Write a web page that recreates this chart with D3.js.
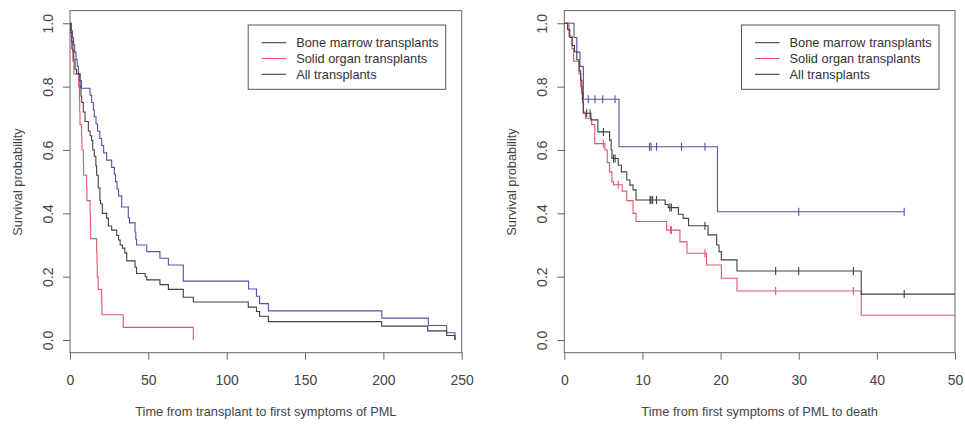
<!DOCTYPE html>
<html>
<head>
<meta charset="utf-8">
<script src="https://cdn.jsdelivr.net/npm/d3@7"></script>
<style>
  body { margin: 0; background: #fff; }
  svg { display: block; font-family: "Liberation Sans", Arial, sans-serif; }
  .domain, .tick line { stroke: #666; }
  .tick text { fill: #444; font-size: 14px; }
  .title { fill: #444; font-size: 12.8px; }
  .legend text { fill: #333; font-size: 12.8px; }
</style>
</head>
<body>
<script>
// left panel: time from transplant to first symptoms of PML
var leftBmtT = [0, 0.8, 1.5, 2.3, 3, 3.8, 4.6, 5.4, 6.3, 7.3, 12.8, 13.8, 14.9, 15.5, 16.6, 17.6, 19, 20.2, 21.5, 23.4, 26.6, 28.3, 29, 30, 31, 33, 37.2, 38, 41.5, 42, 42.5, 49, 57.4, 62.8, 72.3, 114, 119, 121, 126.6, 199, 228.7, 240.4, 245.7];
var leftBmtS = [1, 0.977, 0.955, 0.932, 0.909, 0.886, 0.864, 0.841, 0.818, 0.795, 0.773, 0.75, 0.727, 0.705, 0.682, 0.659, 0.636, 0.614, 0.591, 0.568, 0.545, 0.523, 0.5, 0.477, 0.455, 0.42, 0.386, 0.37, 0.341, 0.318, 0.3, 0.279, 0.258, 0.237, 0.186, 0.161, 0.138, 0.115, 0.092, 0.069, 0.046, 0.023, 0];

var leftSotT = [0, 0.5, 1, 1.8, 2.5, 5.5, 6, 6.2, 6.4, 7.4, 7.6, 8.5, 8.7, 10.6, 10.8, 12.8, 13, 13.2, 17, 17.2, 17.4, 18, 20.2, 20.4, 34, 78.7];
var leftSotS = [1, 0.96, 0.92, 0.88, 0.84, 0.8, 0.76, 0.72, 0.68, 0.64, 0.6, 0.56, 0.52, 0.48, 0.44, 0.4, 0.36, 0.32, 0.28, 0.24, 0.2, 0.16, 0.12, 0.08, 0.04, 0];

var leftAllT = [0, 0.6, 1.2, 1.8, 2.4, 3.2, 4.2, 6.4, 7, 7.5, 8.5, 9.6, 11.7, 12.8, 13.8, 14.5, 15.5, 16.5, 17, 18, 19.1, 19.5, 20.6, 23.4, 24.5, 26.6, 29.8, 31, 32, 33.5, 35, 36.2, 41.5, 42.5, 48, 49, 57.4, 62.8, 72.3, 78.7, 113.8, 119, 121, 126.6, 198.9, 228.3, 240.4, 245.7];
var leftAllS = [1, 0.971, 0.942, 0.913, 0.884, 0.855, 0.84, 0.8, 0.77, 0.75, 0.72, 0.69, 0.66, 0.645, 0.63, 0.6, 0.58, 0.55, 0.52, 0.48, 0.44, 0.43, 0.4, 0.385, 0.36, 0.347, 0.33, 0.316, 0.3, 0.29, 0.275, 0.25, 0.23, 0.21, 0.2, 0.19, 0.175, 0.16, 0.135, 0.12, 0.104, 0.09, 0.075, 0.058, 0.044, 0.029, 0.0145, 0];

// right panel: time from first symptoms of PML to death
var rightBmtT = [0, 1.24, 1.6, 2, 2.44, 7, 19.6, 43.5];
var rightBmtS = [1, 0.955, 0.909, 0.864, 0.76, 0.61, 0.405, 0.405];
var rightBmtCens = [3.07, 3.93, 4.91, 6.49, 10.9, 11.1, 11.8, 15, 18, 30, 43.5];

var rightSotT = [0, 0.6, 1, 1.2, 1.9, 2.1, 2.3, 2.45, 2.7, 3.5, 3.9, 5.2, 5.5, 5.8, 6.1, 6.3, 7.4, 8, 8.8, 9.18, 13.1, 14.8, 15.7, 18.2, 20.1, 22.1, 38, 50];
var rightSotS = [1, 0.96, 0.92, 0.88, 0.84, 0.8, 0.76, 0.72, 0.7, 0.68, 0.62, 0.6, 0.56, 0.53, 0.5, 0.49, 0.47, 0.44, 0.4, 0.374, 0.347, 0.31, 0.274, 0.237, 0.195, 0.155, 0.078, 0.078];
var rightSotCens = [5, 6.9, 13.6, 13.7, 18, 27.05, 37];

var rightAllT = [0, 0.43, 0.7, 1, 1.3, 1.6, 1.9, 2.1, 2.25, 2.35, 2.43, 3.4, 4.3, 5.8, 6, 6.1, 6.9, 7.3, 8, 8.4, 8.8, 9.18, 12.9, 13.3, 14.6, 15.2, 15.9, 18.4, 19.5, 19.8, 20.1, 22.1, 38, 50];
var rightAllS = [1, 0.98, 0.955, 0.93, 0.91, 0.885, 0.85, 0.82, 0.78, 0.75, 0.716, 0.695, 0.657, 0.631, 0.6, 0.573, 0.552, 0.531, 0.505, 0.489, 0.474, 0.442, 0.428, 0.418, 0.397, 0.384, 0.361, 0.332, 0.3, 0.279, 0.253, 0.218, 0.145, 0.145];
var rightAllCens = [2.86, 3.3, 5, 6.3, 6.5, 10.97, 11.1, 11.3, 11.8, 13.5, 13.7, 18, 27.05, 30, 37, 43.5];

var leftTicks = [0, 50, 100, 150, 200, 250];
var rightTicks = [0, 10, 20, 30, 40, 50];
var yTicks = [0, 0.2, 0.4, 0.6, 0.8, 1];
var legendLabels = ["Bone marrow transplants", "Solid organ transplants", "All transplants"];

var colBmt = "#5252a6", colSot = "#e0566a", colAll = "#404040";

var width = 965, height = 424;
var svg = d3.select("body").append("svg")
    .attr("width", width)
    .attr("height", height);

var y = d3.scaleLinear().domain([-0.04, 1.04]).range([352.7, 10.6]);

function zip(t, s) {
  return t.map(function(d, i) { return [d, s[i]]; });
}

function survAt(t, s, time) {
  var i = d3.bisectRight(t, time) - 1;
  return s[Math.max(0, i)];
}

function drawPanel(opts) {
  var x = d3.scaleLinear().domain(opts.domain).range(opts.range);
  var g = svg.append("g");

  var line = d3.line()
      .curve(d3.curveStepAfter)
      .x(function(d) { return x(d[0]); })
      .y(function(d) { return y(d[1]); });

  // box
  g.append("rect")
      .attr("x", opts.range[0]).attr("y", 10.6)
      .attr("width", opts.range[1] - opts.range[0]).attr("height", 352.7 - 10.6)
      .attr("fill", "none").attr("stroke", "#666");

  g.append("g")
      .attr("transform", "translate(0,352.7)")
      .call(d3.axisBottom(x).tickValues(opts.ticks).tickSize(7).tickPadding(15).tickFormat(d3.format("d")))
      .call(function(a) { a.select(".domain").remove(); });

  var ya = g.append("g")
      .attr("transform", "translate(" + opts.range[0] + ",0)")
      .call(d3.axisLeft(y).tickValues(yTicks).tickSize(7).tickFormat(d3.format(".1f")));
  ya.select(".domain").remove();
  ya.selectAll(".tick text")
      .attr("transform", "rotate(-90)")
      .attr("x", 0).attr("y", -17)
      .attr("dy", "0")
      .attr("text-anchor", "middle");

  opts.series.forEach(function(s) {
    g.append("path")
        .datum(zip(s.t, s.s))
        .attr("fill", "none")
        .attr("stroke", s.color)
        .attr("stroke-width", 1.1)
        .attr("d", line);
    if (s.cens) {
      g.selectAll(null)
          .data(s.cens)
        .enter().append("line")
          .attr("x1", function(d) { return x(d); })
          .attr("x2", function(d) { return x(d); })
          .attr("y1", function(d) { return y(survAt(s.t, s.s, d)) - 4; })
          .attr("y2", function(d) { return y(survAt(s.t, s.s, d)) + 4; })
          .attr("stroke", s.color)
          .attr("stroke-width", 1.1);
    }
  });

  var cx = (opts.range[0] + opts.range[1]) / 2;
  g.append("text").attr("class", "title")
      .attr("x", cx).attr("y", 416)
      .attr("text-anchor", "middle")
      .text(opts.xTitle);
  g.append("text").attr("class", "title")
      .attr("transform", "translate(" + (opts.range[0] - 48) + ",182)rotate(-90)")
      .attr("text-anchor", "middle")
      .text("Survival probability");

  // legend
  var lx = opts.range[1] - 213.5;
  var lg = g.append("g").attr("class", "legend").attr("transform", "translate(" + lx + ",25)");
  lg.append("rect")
      .attr("width", 197.5).attr("height", 64.3)
      .attr("fill", "#fff").attr("stroke", "#555");
  var legCols = [colAll, colSot, colAll];
  legendLabels.forEach(function(lab, i) {
    var ly = 17.7 + i * 15.8;
    lg.append("line")
        .attr("x1", 13.5).attr("x2", 38)
        .attr("y1", ly).attr("y2", ly)
        .attr("stroke", legCols[i]).attr("stroke-width", 1.1);
    lg.append("text")
        .attr("x", 48).attr("y", ly + 4.5)
        .text(lab);
  });
}

drawPanel({
  domain: [0, 250], range: [70, 461.7], ticks: leftTicks,
  xTitle: "Time from transplant to first symptoms of PML",
  series: [
    {t: leftSotT, s: leftSotS, color: colSot},
    {t: leftBmtT, s: leftBmtS, color: colBmt},
    {t: leftAllT, s: leftAllS, color: colAll}
  ]
});

drawPanel({
  domain: [0, 50], range: [564.3, 955], ticks: rightTicks,
  xTitle: "Time from first symptoms of PML to death",
  series: [
    {t: rightBmtT, s: rightBmtS, color: colBmt, cens: rightBmtCens},
    {t: rightSotT, s: rightSotS, color: colSot, cens: rightSotCens},
    {t: rightAllT, s: rightAllS, color: colAll, cens: rightAllCens}
  ]
});
</script>
</body>
</html>
